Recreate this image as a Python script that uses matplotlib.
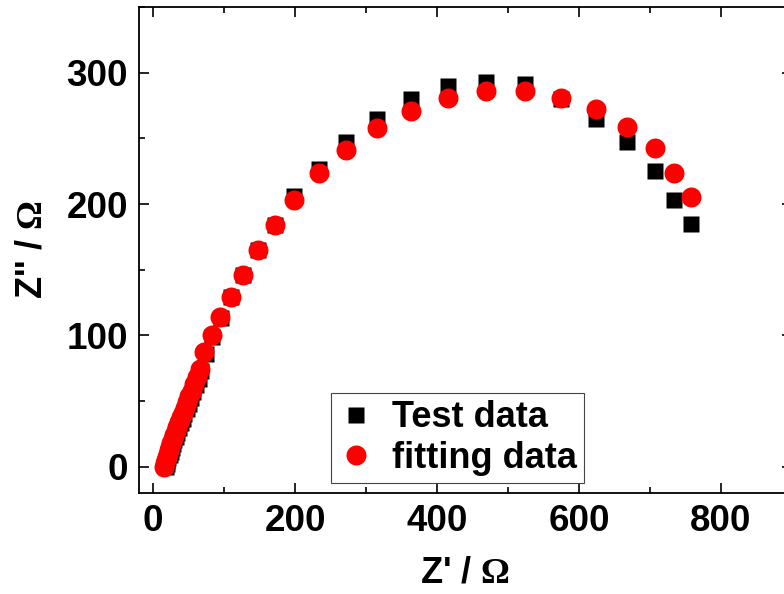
import matplotlib
matplotlib.use('Agg')
from matplotlib import pyplot as plt

# Nyquist data (ohm)
test_x = [18, 19, 20, 21.5, 23, 24.5, 26, 28, 30, 32, 34, 36.5, 39, 41.5, 44, 47, 50, 53,
          56.5, 60, 64, 68, 74, 83, 95, 110, 127, 147, 172, 199, 234, 271, 315, 363, 415,
          469, 524, 575, 624, 667, 707, 734, 757]
test_y = [0, 2, 4, 6.5, 9, 11.5, 14, 17, 20, 23, 26, 29.5, 33, 36.5, 40, 44, 48, 52.5,
          57, 62, 67, 73, 86, 99, 113, 129, 146, 165, 184, 206, 227, 247, 265, 280, 290,
          293, 291, 280, 265, 247, 225, 203, 185]

fit_x = [15, 16, 17.5, 19, 20.5, 22, 23.5, 25.5, 27.5, 29.5, 31.5, 34, 36.5, 39, 41.5, 44.5,
         47.5, 50.5, 54, 57.5, 61.5, 66, 72, 82.5, 94, 109, 126, 147, 172, 199, 234, 271,
         315, 363, 415, 469, 524, 575, 624, 667, 707, 734, 757]
fit_y = [0, 2.5, 5, 7.5, 10, 12.5, 15, 18, 21, 24, 27, 30.5, 34, 37.5, 41, 45, 49, 53.5,
         58, 63, 68.5, 74.5, 87, 100, 114, 129, 146, 165, 184, 203, 224, 241, 258, 271,
         281, 286, 286, 281, 272, 259, 243, 224, 205]

xticks = [0, 200, 400, 600, 800]
yticks = [0, 100, 200, 300]

plt.rcParams['font.family'] = ['Liberation Sans', 'DejaVu Sans']
plt.rcParams['font.weight'] = 'bold'
plt.rcParams['mathtext.fontset'] = 'custom'
plt.rcParams['mathtext.rm'] = 'Liberation Serif'

fig = plt.figure(figsize=(7.84, 5.94), dpi=100)
ax = fig.add_axes([139/784, 101/594, (792-139)/784, (493-7)/594])

ax.plot(test_x, test_y, 's', color='black', ms=12.2, mec='none', label='Test data')
ax.plot(fit_x, fit_y, 'o', color='#ff0000', ms=14.4, mec='none', label='fitting data')

ax.set_xlim(-20, 900)
ax.set_ylim(-20, 350)
ax.set_xticks(xticks)
ax.set_yticks(yticks)
ax.set_xticks(range(100, 900, 200), minor=True)
ax.set_yticks([50, 150, 250, 350], minor=True)

ax.tick_params(which='both', direction='in', top=True, right=True, width=1.2,
               labelsize=26.5, pad=8)
ax.tick_params(which='major', length=7)
ax.tick_params(which='minor', length=4)
for lab in ax.get_xticklabels() + ax.get_yticklabels():
    lab.set_fontweight('bold')
for s in ax.spines.values():
    s.set_linewidth(1.3)

ax.set_xlabel(r"Z' / $\mathrm{\Omega}$", fontsize=26, fontweight='bold', labelpad=12)
ax.set_ylabel(r"Z'' / $\mathrm{\Omega}$", fontsize=26, fontweight='bold', labelpad=12)

leg = ax.legend(loc='lower left', bbox_to_anchor=(331/784, 111/594),
                bbox_transform=fig.transFigure, borderaxespad=0, fancybox=False,
                prop={'size': 26, 'weight': 'bold'}, handletextpad=0.5,
                handlelength=1.0, borderpad=0.2, labelspacing=0.15, framealpha=1)
leg.get_frame().set_edgecolor('#444444')
leg.get_frame().set_linewidth(0.8)

fig.savefig('out.png', dpi=100)
